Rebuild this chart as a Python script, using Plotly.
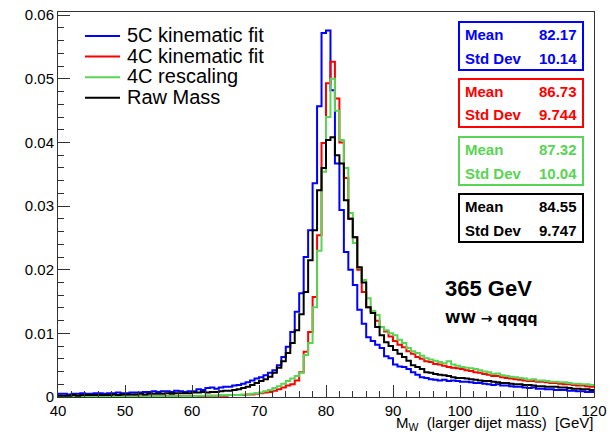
import plotly.graph_objects as go
import numpy as np

# histogram binning: 120 bins of 2/3 GeV between 40 and 120 GeV
bin_lo = 40
bin_hi = 120
n_bins = 120

labels = ["5C kinematic fit", "4C kinematic fit", "4C rescaling", "Raw Mass"]
colors = ["#0000ff", "#ff0000", "#59d454", "#000000"]
means = ["82.17", "86.73", "87.32", "84.55"]
std_devs = ["10.14", "9.744", "10.04", "9.747"]

fit_5c = [
    0.0005, 0.0005, 0.0004, 0.0005, 0.0005, 0.0006, 0.0005, 0.0005, 0.0006, 0.0006,
    0.0005, 0.0006, 0.0006, 0.0007, 0.0006, 0.0006, 0.0007, 0.0007, 0.0007, 0.0008,
    0.0008, 0.0009, 0.0008, 0.0009, 0.0009, 0.0008, 0.0010, 0.0009, 0.0008, 0.0009,
    0.0009, 0.0012, 0.0011, 0.0014, 0.0015, 0.0013, 0.0015, 0.0016, 0.0016, 0.0018,
    0.0019, 0.0021, 0.0023, 0.0026, 0.0029, 0.0031, 0.0034, 0.0038, 0.0042, 0.0050,
    0.0063, 0.0079, 0.0102, 0.0134, 0.0163, 0.0220, 0.0262, 0.0336, 0.0457, 0.0572,
    0.0576, 0.0482, 0.0367, 0.0294, 0.0228, 0.0200, 0.0176, 0.0137, 0.0115, 0.0094,
    0.0088, 0.0082, 0.0077, 0.0064, 0.0061, 0.0051, 0.0048, 0.0047, 0.0044, 0.0039,
    0.0035, 0.0031, 0.0030, 0.0028, 0.0027, 0.0026, 0.0027, 0.0025, 0.0026, 0.0025,
    0.0024, 0.0024, 0.0023, 0.0022, 0.0022, 0.0021, 0.0020, 0.0019, 0.0020, 0.0018,
    0.0018, 0.0017, 0.0016, 0.0016, 0.0015, 0.0014, 0.0015, 0.0013, 0.0013, 0.0012,
    0.0012, 0.0011, 0.0011, 0.0011, 0.0010, 0.0010, 0.0009, 0.0009, 0.0008, 0.0008,
]

fit_4c = [
    0.0000, 0.0001, 0.0000, 0.0000, 0.0001, 0.0000, 0.0001, 0.0000, 0.0001, 0.0000,
    0.0001, 0.0001, 0.0000, 0.0001, 0.0001, 0.0001, 0.0000, 0.0001, 0.0001, 0.0001,
    0.0001, 0.0001, 0.0001, 0.0001, 0.0001, 0.0001, 0.0001, 0.0001, 0.0001, 0.0001,
    0.0001, 0.0001, 0.0001, 0.0002, 0.0002, 0.0002, 0.0002, 0.0002, 0.0003, 0.0003,
    0.0003, 0.0003, 0.0004, 0.0004, 0.0005, 0.0006, 0.0007, 0.0008, 0.0010, 0.0012,
    0.0015, 0.0018, 0.0020, 0.0026, 0.0039, 0.0071, 0.0102, 0.0157, 0.0254, 0.0399,
    0.0493, 0.0527, 0.0469, 0.0400, 0.0344, 0.0280, 0.0251, 0.0200, 0.0165, 0.0141,
    0.0135, 0.0120, 0.0110, 0.0103, 0.0095, 0.0088, 0.0082, 0.0078, 0.0072, 0.0068,
    0.0063, 0.0060, 0.0056, 0.0055, 0.0052, 0.0051, 0.0049, 0.0047, 0.0046, 0.0045,
    0.0044, 0.0042, 0.0041, 0.0039, 0.0038, 0.0036, 0.0035, 0.0033, 0.0033, 0.0031,
    0.0030, 0.0029, 0.0028, 0.0027, 0.0026, 0.0025, 0.0025, 0.0024, 0.0024, 0.0023,
    0.0022, 0.0022, 0.0021, 0.0020, 0.0020, 0.0019, 0.0018, 0.0018, 0.0017, 0.0016,
]

rescaling_4c = [
    0.0000, 0.0000, 0.0001, 0.0000, 0.0000, 0.0001, 0.0000, 0.0001, 0.0000, 0.0001,
    0.0000, 0.0001, 0.0001, 0.0000, 0.0001, 0.0001, 0.0001, 0.0001, 0.0001, 0.0001,
    0.0001, 0.0001, 0.0001, 0.0001, 0.0001, 0.0001, 0.0001, 0.0001, 0.0001, 0.0001,
    0.0001, 0.0002, 0.0002, 0.0002, 0.0002, 0.0002, 0.0003, 0.0003, 0.0003, 0.0003,
    0.0003, 0.0004, 0.0004, 0.0005, 0.0006, 0.0007, 0.0009, 0.0011, 0.0014, 0.0017,
    0.0021, 0.0025, 0.0029, 0.0033, 0.0038, 0.0066, 0.0085, 0.0141, 0.0230, 0.0354,
    0.0440, 0.0500, 0.0450, 0.0404, 0.0360, 0.0289, 0.0242, 0.0203, 0.0184, 0.0155,
    0.0135, 0.0129, 0.0110, 0.0105, 0.0100, 0.0097, 0.0090, 0.0085, 0.0077, 0.0072,
    0.0069, 0.0065, 0.0061, 0.0059, 0.0057, 0.0055, 0.0053, 0.0056, 0.0051, 0.0049,
    0.0047, 0.0046, 0.0045, 0.0044, 0.0042, 0.0040, 0.0039, 0.0036, 0.0037, 0.0034,
    0.0033, 0.0032, 0.0031, 0.0030, 0.0029, 0.0027, 0.0028, 0.0026, 0.0026, 0.0025,
    0.0024, 0.0024, 0.0023, 0.0023, 0.0022, 0.0021, 0.0021, 0.0020, 0.0020, 0.0019,
]

raw_mass = [
    0.0002, 0.0002, 0.0002, 0.0003, 0.0002, 0.0003, 0.0003, 0.0003, 0.0003, 0.0003,
    0.0003, 0.0003, 0.0004, 0.0003, 0.0004, 0.0004, 0.0004, 0.0004, 0.0005, 0.0004,
    0.0005, 0.0005, 0.0005, 0.0005, 0.0006, 0.0005, 0.0006, 0.0006, 0.0006, 0.0006,
    0.0007, 0.0007, 0.0008, 0.0007, 0.0008, 0.0008, 0.0009, 0.0010, 0.0010, 0.0011,
    0.0012, 0.0014, 0.0016, 0.0019, 0.0022, 0.0025, 0.0028, 0.0032, 0.0038, 0.0046,
    0.0056, 0.0069, 0.0085, 0.0105, 0.0130, 0.0165, 0.0215, 0.0262, 0.0325, 0.0360,
    0.0404, 0.0408, 0.0380, 0.0367, 0.0309, 0.0280, 0.0251, 0.0204, 0.0180, 0.0141,
    0.0132, 0.0110, 0.0097, 0.0086, 0.0080, 0.0074, 0.0068, 0.0063, 0.0057, 0.0050,
    0.0047, 0.0044, 0.0039, 0.0038, 0.0036, 0.0035, 0.0034, 0.0033, 0.0031, 0.0030,
    0.0030, 0.0029, 0.0028, 0.0027, 0.0026, 0.0025, 0.0025, 0.0024, 0.0023, 0.0022,
    0.0022, 0.0021, 0.0020, 0.0020, 0.0019, 0.0019, 0.0018, 0.0017, 0.0017, 0.0016,
    0.0016, 0.0016, 0.0015, 0.0015, 0.0014, 0.0013, 0.0013, 0.0012, 0.0012, 0.0011,
]

hists = [fit_5c, fit_4c, rescaling_4c, raw_mass]

edges = np.linspace(bin_lo, bin_hi, n_bins + 1)

FONT = "Liberation Sans, Arial, Helvetica, sans-serif"

# frame in pixels (ROOT pad margins)
W, H = 615, 432
L, R, T, B = 58, 21, 12, 35
pw, ph = W - L - R, H - T - B


def px(x):
    return (x - L) / pw


def py(y):
    return (H - B - y) / ph


fig = go.Figure()

for name, vals, col in zip(labels, hists, colors):
    fig.add_trace(go.Scatter(
        x=edges, y=list(vals) + [vals[-1]],
        mode="lines", line=dict(color=col, width=2, shape="hv"),
        name=name, showlegend=False, hoverinfo="skip"))

shapes = []
annots = []

# legend (top left)
for k, (name, col) in enumerate(zip(labels, colors)):
    ly = 36 + 20.6 * k
    shapes.append(dict(type="line", xref="paper", yref="paper",
                       x0=px(85), x1=px(120), y0=py(ly), y1=py(ly),
                       line=dict(color=col, width=2)))
    annots.append(dict(xref="paper", yref="paper", x=px(125), y=py(ly - 1),
                       xanchor="left", yanchor="middle", showarrow=False,
                       text=name, font=dict(family=FONT, size=20, color="black")))

# stat boxes
box_tops = [22, 79, 137, 194]
for top, col, m, s in zip(box_tops, colors, means, std_devs):
    shapes.append(dict(type="rect", xref="paper", yref="paper",
                       x0=px(459), x1=px(583), y0=py(top), y1=py(top + 48),
                       line=dict(color=col, width=2), fillcolor="white", layer="above"))
    for row, (lab, val) in enumerate([("Mean", m), ("Std Dev", s)]):
        yy = top + 12.5 + 23.5 * row
        annots.append(dict(xref="paper", yref="paper", x=px(463), y=py(yy),
                           xanchor="left", yanchor="middle", showarrow=False,
                           text="<b>%s</b>" % lab, font=dict(family=FONT, size=15, color=col)))
        annots.append(dict(xref="paper", yref="paper", x=px(579), y=py(yy),
                           xanchor="right", yanchor="middle", showarrow=False,
                           text="<b>%s</b>" % val, font=dict(family=FONT, size=15, color=col)))

annots.append(dict(xref="paper", yref="paper", x=px(443), y=py(288),
                   xanchor="left", yanchor="middle", showarrow=False,
                   text="<b>365 GeV</b>", font=dict(family=FONT, size=22, color="black")))
annots.append(dict(xref="paper", yref="paper", x=px(443), y=py(318),
                   xanchor="left", yanchor="middle", showarrow=False,
                   text="<b>WW \u2192 qqqq</b>",
                   font=dict(family="DejaVu Sans, " + FONT, size=14, color="black")))

# x axis title, right aligned like ROOT
annots.append(dict(xref="paper", yref="paper", x=px(595), y=py(424),
                   xanchor="right", yanchor="middle", showarrow=False,
                   text="M<sub>W</sub>\u00a0\u00a0(larger dijet mass)\u00a0\u00a0[GeV]",
                   font=dict(family=FONT, size=15, color="black")))

axis_common = dict(
    showline=True, mirror=True, linecolor="#333", linewidth=1,
    showgrid=False, zeroline=False, automargin=False,
    ticks="inside", ticklen=12, tickcolor="#333",
    tickfont=dict(family=FONT, size=15, color="black"),
)

fig.update_layout(
    width=W, height=H,
    margin=dict(l=L, r=R, t=T, b=B, autoexpand=False),
    paper_bgcolor="white", plot_bgcolor="white",
    showlegend=False,
    shapes=shapes, annotations=annots,
    xaxis=dict(range=[bin_lo, bin_hi], dtick=10,
               minor=dict(dtick=2, ticks="inside", ticklen=6, tickcolor="#333"),
               **axis_common),
    yaxis=dict(range=[0, 0.0605], dtick=0.01,
               minor=dict(dtick=0.002, ticks="inside", ticklen=6, tickcolor="#333"),
               **axis_common),
)

# drop the default page margin so the figure sits at the window corner
fig.write_html("out.html", config={"displayModeBar": False},
               post_script="document.body.style.margin='0';document.body.style.padding='0';")
